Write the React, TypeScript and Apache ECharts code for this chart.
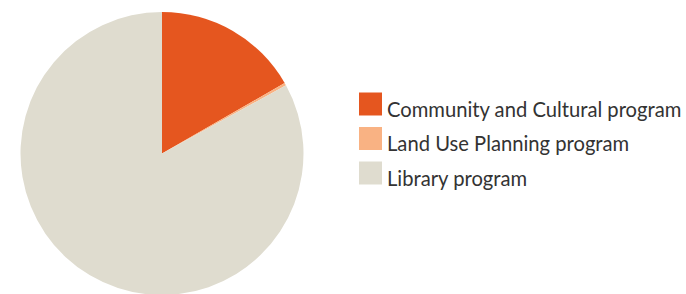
import React, { useEffect, useRef } from "react";
import * as echarts from "echarts";

const categories = ["Community and Cultural program", "Land Use Planning program", "Library program"];
const values = [16.7, 0.3, 83.0];
const colors = ["#E5561F", "#F9B283", "#DFDCCF"];

export default function App() {
  const ref = useRef<HTMLDivElement>(null);
  useEffect(() => {
    if (!ref.current) return;
    const chart = echarts.init(ref.current, undefined, { renderer: "svg" });
    chart.setOption({
      animation: false,
      backgroundColor: "#ffffff",
      legend: {
        orient: "vertical",
        left: 359,
        top: 89.5,
        padding: 0,
        itemWidth: 23,
        itemHeight: 23,
        itemGap: 5.5,
        icon: "rect",
        data: categories,
        formatter: "{a|{name}}",
        textStyle: {
          fontFamily: "Lato",
          fontSize: 20.2,
          color: "#333333",
          rich: {
            a: {
              fontFamily: "Lato",
              fontSize: 20.2,
              color: "#333333",
              lineHeight: 23,
              padding: [9, 0, 0, 0],
            },
          },
        },
      },
      series: [
        {
          type: "pie",
          center: [162, 153.5],
          radius: 141.5,
          startAngle: 90,
          clockwise: true,
          label: { show: false },
          labelLine: { show: false },
          emphasis: { disabled: true },
          itemStyle: { borderWidth: 0 },
          data: categories.map((name, i) => ({
            name,
            value: values[i],
            itemStyle: { color: colors[i] },
          })),
        },
      ],
    });
    return () => chart.dispose();
  }, []);
  return (
    <div
      ref={ref}
      style={{ position: "absolute", left: 0, top: 0, width: 686, height: 294 }}
    />
  );
}
